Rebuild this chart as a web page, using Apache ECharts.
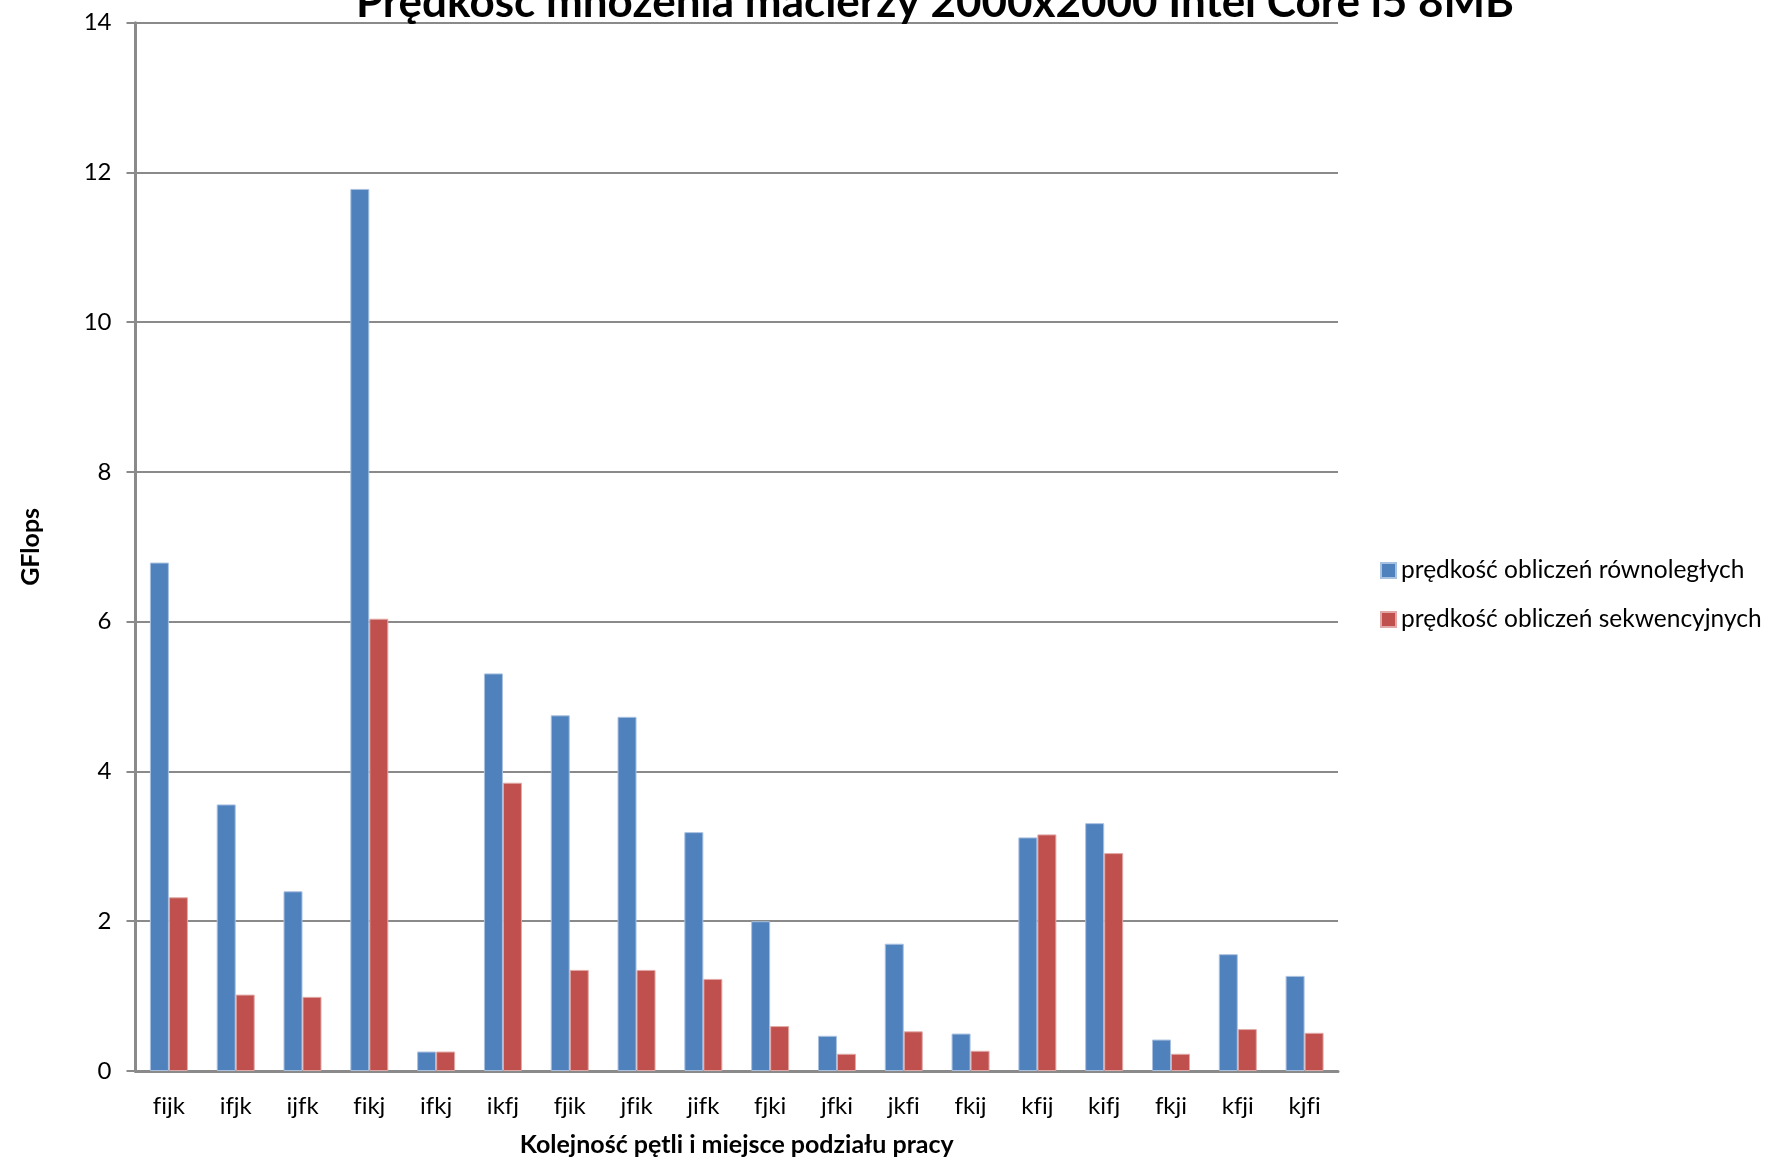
<!DOCTYPE html>
<html>
<head>
<meta charset="utf-8">
<title>Prędkość mnożenia macierzy 2000x2000 Intel Core i5 8MB</title>
<script src="https://cdn.jsdelivr.net/npm/echarts@6/dist/echarts.min.js"></script>
<style>
  html, body { margin: 0; padding: 0; background: #ffffff; }
  #chart { width: 1771px; height: 1162px; }
</style>
</head>
<body>
<div id="chart"></div>
<script>
// Loop orders (with the position where work is split)
const categories = ['fijk', 'ifjk', 'ijfk', 'fikj', 'ifkj', 'ikfj', 'fjik', 'jfik', 'jifk',
                    'fjki', 'jfki', 'jkfi', 'fkij', 'kfij', 'kifj', 'fkji', 'kfji', 'kjfi'];

// GFlops for parallel computation
const parallelValues = [6.79, 3.56, 2.40, 11.78, 0.26, 5.31, 4.75, 4.73, 3.19,
                        2.00, 0.47, 1.70, 0.50, 3.12, 3.31, 0.42, 1.56, 1.27];

// GFlops for sequential computation
const sequentialValues = [2.32, 1.02, 0.99, 6.04, 0.26, 3.85, 1.35, 1.35, 1.23,
                          0.60, 0.23, 0.53, 0.27, 3.16, 2.91, 0.23, 0.56, 0.51];

const seriesNames = ['prędkość obliczeń równoległych', 'prędkość obliczeń sekwencyjnych'];
const yTicks = { min: 0, max: 14, interval: 2 };

const FONT = 'Lato, "Open Sans", sans-serif';
const GRID_GRAY = '#8a8a8a';

// keep "fi"/"fj" as separate letters (no typographic ligature)
const noLigature = s => s.split('').join('\u200C');

const chart = echarts.init(document.getElementById('chart'), null, { renderer: 'canvas' });

chart.setOption({
  backgroundColor: '#ffffff',
  animation: false,
  title: {
    text: 'Prędkość mnożenia macierzy 2000x2000 Intel Core i5 8MB',
    left: 930,
    textAlign: 'center',
    top: -24,
    textStyle: { fontFamily: FONT, fontSize: 44, fontWeight: 'bold', color: '#000000' }
  },
  legend: {
    orient: 'vertical',
    left: 1380,
    top: 558,
    padding: 0,
    itemWidth: 15,
    itemHeight: 15,
    itemGap: 24,
    icon: 'rect',
    textStyle: { fontFamily: FONT, fontSize: 24.5, color: '#000000' },
    data: seriesNames
  },
  grid: {
    left: 135.5,
    right: 433,
    top: 22.7,
    bottom: 89.3,
    containLabel: false
  },
  xAxis: {
    type: 'category',
    data: categories,
    name: 'Kolejność pętli i miejsce podziału pracy',
    nameLocation: 'middle',
    nameGap: 61,
    nameTextStyle: { fontFamily: FONT, fontSize: 25, fontWeight: 'bold', color: '#000000' },
    axisLine: { lineStyle: { color: GRID_GRAY, width: 3 } },
    axisTick: { show: false },
    axisLabel: { fontFamily: FONT, fontSize: 24, color: '#000000', margin: 23, interval: 0,
                 formatter: noLigature },
    splitLine: { show: false }
  },
  yAxis: {
    type: 'value',
    min: yTicks.min,
    max: yTicks.max,
    interval: yTicks.interval,
    name: 'GFlops',
    nameLocation: 'middle',
    nameGap: 92,
    nameRotate: 90,
    nameTextStyle: { fontFamily: FONT, fontSize: 25, fontWeight: 'bold', color: '#000000' },
    axisLine: { show: true, lineStyle: { color: GRID_GRAY, width: 3 } },
    axisTick: { show: true, inside: false, length: 9, lineStyle: { color: GRID_GRAY, width: 2 } },
    axisLabel: { fontFamily: FONT, fontSize: 24, color: '#000000', margin: 24 },
    splitLine: { show: true, lineStyle: { color: GRID_GRAY, width: 2 } }
  },
  series: [
    {
      name: seriesNames[0],
      type: 'bar',
      data: parallelValues,
      barWidth: 19,
      barGap: '0%',
      itemStyle: { color: '#4F81BD', borderColor: '#a9c1e0', borderWidth: 1 }
    },
    {
      name: seriesNames[1],
      type: 'bar',
      data: sequentialValues,
      barWidth: 19,
      barGap: '0%',
      itemStyle: { color: '#C0504D', borderColor: '#e0a9a7', borderWidth: 1 }
    }
  ]
});
</script>
</body>
</html>
